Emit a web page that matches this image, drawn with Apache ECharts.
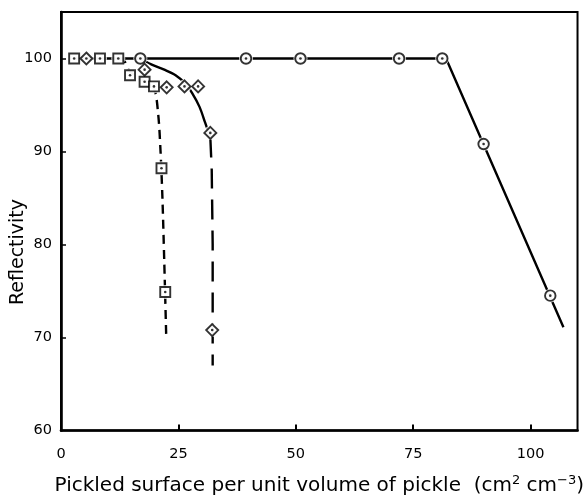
<!DOCTYPE html>
<html>
<head>
<meta charset="utf-8">
<script src="https://cdn.jsdelivr.net/npm/echarts@6/dist/echarts.min.js"></script>
<style>html,body{margin:0;padding:0;background:#fff}#c{width:587px;height:501px}</style>
</head>
<body>
<div id="c"></div>
<script>
// ---- data ----
const xTicks = [0, 25, 50, 75, 100];
const yTicks = [60, 70, 80, 90, 100];

const squareX = [2.8, 8.3, 12.2, 14.7, 17.8, 19.8, 21.4, 22.2];
const squareY = [100, 100, 100, 98.2, 97.5, 97.0, 88.2, 74.9];
const diamondX = [5.4, 17.8, 22.5, 26.3, 29.2, 31.8, 32.2];
const diamondY = [100, 98.8, 96.9, 97.0, 97.0, 92.0, 70.8];
const circleX = [16.9, 39.4, 51.0, 72.0, 81.2, 90.0, 104.2];
const circleY = [100, 100, 100, 100, 100, 90.8, 74.5];

// hand-drawn curves through the points
const squareCurveX = [12.2, 13.5, 14.7, 17.8, 19.8, 20.7, 21.2, 21.6, 22.0, 22.4];
const squareCurveY = [100, 99.7, 98.6, 97.6, 96.8, 94.0, 90.0, 85.0, 78.0, 70.3];
const diamondCurveX = [16.9, 19.1, 22.0, 24.4, 26.5, 27.9, 29.5, 30.7, 31.8];
const diamondCurveY = [100, 99.4, 98.8, 98.2, 97.3, 96.3, 94.8, 93.1, 91.5];
const diamondTailX = [31.8, 32.1, 32.3, 32.3];
const diamondTailY = [91.5, 88.0, 80.0, 67.0];
const circleCurveX = [2.8, 82.0, 107.0];
const circleCurveY = [100, 100, 71.1];

const zip = (xs, ys) => xs.map((x, i) => [x, ys[i]]);
const allPts = zip(squareX, squareY).concat(zip(diamondX, diamondY), zip(circleX, circleY));

const FONT = 'DejaVu Sans';
const chart = echarts.init(document.getElementById('c'), null, {renderer: 'canvas'});

function curve(xs, ys, dash, smooth) {
  return {type: 'line', data: zip(xs, ys), showSymbol: false, symbol: 'none', smooth: smooth,
    lineStyle: {color: '#000', width: 2.4, type: dash || 'solid', cap: 'butt'},
    z: 2, silent: true, animation: false};
}
function marks(pts, symbol, size) {
  return {type: 'scatter', data: pts, symbol: symbol, symbolSize: size,
    itemStyle: {color: '#fff', borderColor: '#000', borderWidth: 1.9},
    z: 4, silent: true, animation: false};
}

chart.setOption({
  animation: false,
  grid: {left: 61, right: 9, top: 12, bottom: 58, show: true, borderColor: '#000', borderWidth: 2},
  xAxis: {
    type: 'value', min: 0, max: 110, interval: 25,
    axisLine: {show: true, lineStyle: {color: '#000', width: 2.6}},
    axisTick: {show: true, inside: true, length: 6, lineStyle: {color: '#000', width: 2}, customValues: xTicks.slice(1)},
    axisLabel: {color: '#000', fontFamily: FONT, fontSize: 14.5, margin: 16, customValues: xTicks},
    splitLine: {show: false},
    name: 'Pickled surface per unit volume of pickle  (cm{sup|2} cm{sup|−3})',
    nameLocation: 'middle', nameGap: 44,
    nameTextStyle: {color: '#000', fontFamily: FONT, fontSize: 20,
      rich: {sup: {fontSize: 13, verticalAlign: 'top', padding: [0, 0, 10, 0], color: '#000', fontFamily: FONT}}}
  },
  yAxis: {
    type: 'value', min: 60, max: 105, interval: 10,
    axisLine: {show: true, lineStyle: {color: '#000', width: 2.6}},
    axisTick: {show: true, inside: true, length: 5, lineStyle: {color: '#000', width: 1.5}, customValues: yTicks.slice(1)},
    axisLabel: {color: '#000', fontFamily: FONT, fontSize: 14.5, margin: 9, customValues: yTicks},
    splitLine: {show: false}
  },
  graphic: [{
    type: 'text', rotation: Math.PI / 2,
    x: 18, y: 252,
    style: {text: 'Reflectivity', fill: '#000', font: '19px "' + FONT + '"', align: 'center', verticalAlign: 'middle'}
  }],
  series: [
    curve(circleCurveX, circleCurveY, 'solid', false),
    curve(squareCurveX, squareCurveY, [9, 6], 0.3),
    curve(diamondCurveX, diamondCurveY, 'solid', 0.3),
    curve(diamondTailX, diamondTailY, [20, 11], false),
    // white halos so that lines stop short of the markers
    {type: 'scatter', data: allPts, symbol: 'circle', symbolSize: 14, itemStyle: {color: '#fff'}, z: 3, silent: true, animation: false},
    marks(zip(squareX, squareY), 'rect', 10),
    marks(zip(diamondX, diamondY), 'diamond', 12),
    marks(zip(circleX, circleY), 'circle', 10.5),
    {type: 'scatter', data: allPts, symbol: 'circle', symbolSize: 2.6, itemStyle: {color: '#000'}, z: 5, silent: true, animation: false}
  ]
});
</script>
</body>
</html>
